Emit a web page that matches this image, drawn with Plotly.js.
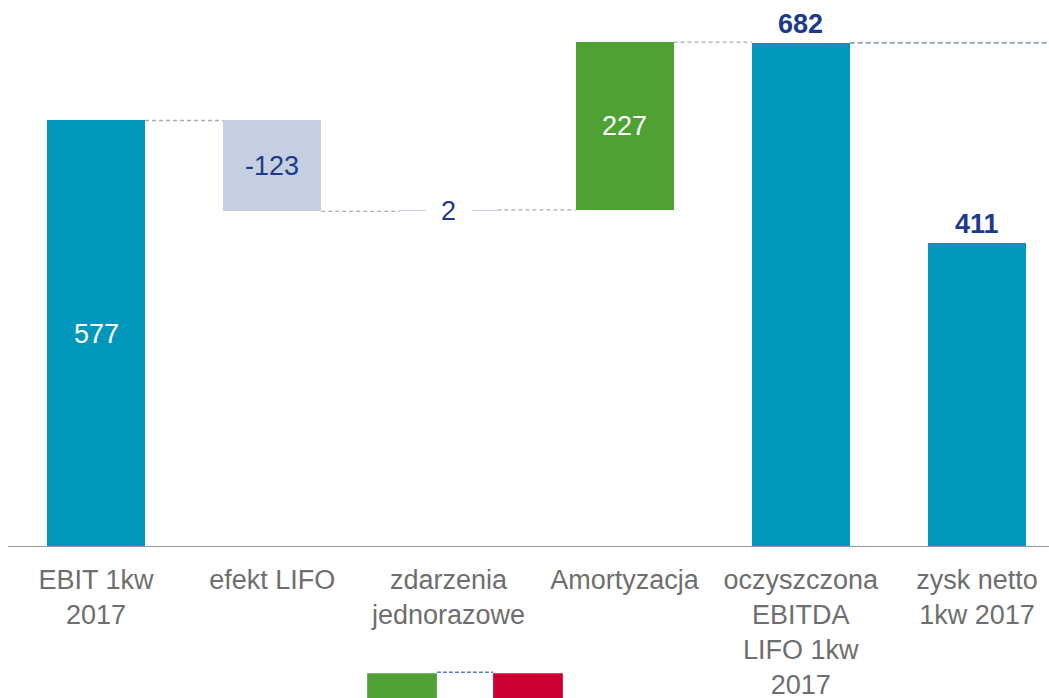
<!DOCTYPE html>
<html>
<head>
<meta charset="utf-8">
<script src="https://cdn.plot.ly/plotly-3.0.1.min.js"></script>
<style>html,body{margin:0;padding:0;background:#fff;overflow:hidden}</style>
</head>
<body>
<div id="chart" style="width:1049px;height:698px"></div>
<script>
// ---- data ----
const categories = ['EBIT 1kw<br>2017', 'efekt LIFO', 'zdarzenia<br>jednorazowe', 'Amortyzacja', 'oczyszczona<br>EBITDA<br>LIFO 1kw<br>2017', 'zysk netto<br>1kw 2017'];
const values = [577, -123, 2, 227, 682, 411];
const kinds = ['total', 'delta', 'delta', 'delta', 'total', 'total'];
const labels = ['577', '-123', '2', '227', '682', '411'];

// ---- style ----
const TEAL = '#0097BB', LIGHT = '#C5CFE1', GREEN = '#50A133', RED = '#CC0033', NAVY = '#1B3A8C';
const barColors = [TEAL, LIGHT, LIGHT, GREEN, TEAL, TEAL];
const labelStyle = ['in-white', 'in-navy', 'bg-navy', 'in-white', 'out-bold', 'out-bold'];
const W = 0.556;
const FONT = 'Liberation Sans, Arial, sans-serif';

// compute waterfall geometry from data
const bases = [], heights = [], ends = [];
let running = 0;
values.forEach((v, i) => {
  if (kinds[i] === 'total') { bases.push(0); heights.push(v); running = v; }
  else { bases.push(v < 0 ? running + v : running); heights.push(Math.abs(v)); running += v; }
  ends.push(running);
});

const trace = {
  type: 'bar', x: categories, y: heights, base: bases, width: W,
  marker: {color: barColors, line: {width: 0}}, hoverinfo: 'skip', showlegend: false
};

const shapes = [];
// connectors
for (let i = 0; i < values.length - 1; i++) {
  if (kinds[i + 1] === 'total' && kinds[i] === 'total') continue;
  shapes.push({type: 'line', xref: 'x', yref: 'y', x0: i + W / 2, x1: i + 1 - W / 2, y0: ends[i], y1: ends[i],
    line: {color: '#ABABAB', width: 1.3, dash: '4px,3px'}});
}
// reference line from the EBITDA total to the right edge
const refIdx = 4;
shapes.push({type: 'line', xref: 'x', yref: 'y', x0: refIdx + W / 2, x1: 6, y0: values[refIdx], y1: values[refIdx],
  line: {color: '#5A7DBE', width: 1.3, dash: '5px,3px'}});
// axis baseline
shapes.push({type: 'line', xref: 'paper', yref: 'y', x0: 0, x1: 1, y0: 0, y1: 0, line: {color: '#999999', width: 2}});
// cut-off legend
shapes.push({type: 'rect', xref: 'paper', yref: 'paper', x0: 0.345, x1: 0.412, y0: -0.30, y1: -0.231, fillcolor: GREEN, line: {width: 0}});
shapes.push({type: 'rect', xref: 'paper', yref: 'paper', x0: 0.466, x1: 0.533, y0: -0.30, y1: -0.231, fillcolor: RED, line: {width: 0}});
shapes.push({type: 'line', xref: 'paper', yref: 'paper', x0: 0.412, x1: 0.466, y0: -0.229, y1: -0.229, line: {color: '#5A7DBE', width: 1.3, dash: '4px,2px'}});

const annotations = values.map((v, i) => {
  const st = labelStyle[i];
  const a = {x: i, xref: 'x', yref: 'y', text: labels[i], showarrow: false,
    font: {family: FONT, size: 27, color: '#ffffff'}};
  if (st === 'in-white') { a.y = bases[i] + heights[i] / 2; }
  else if (st === 'in-navy') { a.y = bases[i] + heights[i] / 2; a.font.color = NAVY; }
  else if (st === 'bg-navy') { a.y = bases[i] + heights[i] / 2; a.font.color = NAVY; a.bgcolor = '#ffffff'; a.borderpad = 0; a.text = '&nbsp;&nbsp;' + labels[i] + '&nbsp;&nbsp;'; }
  else { a.y = bases[i] + heights[i]; a.yanchor = 'bottom'; a.yshift = 2; a.text = '<b>' + labels[i] + '</b>'; a.font.color = NAVY; }
  return a;
});

const layout = {
  width: 1049, height: 698,
  margin: {l: 8, r: 0, t: 0, b: 151},
  paper_bgcolor: '#ffffff', plot_bgcolor: '#ffffff',
  font: {family: FONT},
  showlegend: false,
  bargap: 0,
  xaxis: {type: 'category', range: [-0.5, 5.409], showgrid: false, zeroline: false, showline: false,
    ticks: '', ticklabelstandoff: 14, tickfont: {family: FONT, size: 27, color: '#6E6E6E'}, fixedrange: true},
  yaxis: {range: [0, 740], showgrid: false, zeroline: false, showline: false, showticklabels: false, fixedrange: true},
  shapes: shapes,
  annotations: annotations
};

Plotly.newPlot('chart', [trace], layout, {displayModeBar: false, staticPlot: true});
</script>
</body>
</html>
